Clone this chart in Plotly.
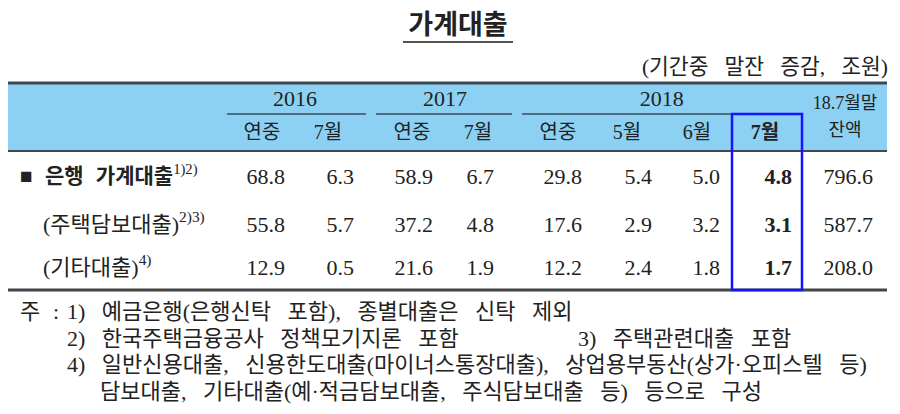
import plotly.graph_objects as go

# 표 내용
title = '가계대출'
unit_note = '(기간중 말잔 증감, 조원)'
years = ['2016', '2017', '2018']
sub_cols = ['연중', '7월', '연중', '7월', '연중', '5월', '6월', '7월']
balance_head = ['18.7월말', '잔액']
row_labels = ['■ 은행 가계대출', '(주택담보대출)', '(기타대출)']
row_notes = ['1)2)', '2)3)', '4)']
bank_total = [68.8, 6.3, 58.9, 6.7, 29.8, 5.4, 5.0, 4.8, 796.6]
mortgage = [55.8, 5.7, 37.2, 4.8, 17.6, 2.9, 3.2, 3.1, 587.7]
other_loans = [12.9, 0.5, 21.6, 1.9, 12.2, 2.4, 1.8, 1.7, 208.0]
note_head = '주 :'
notes = ['1) 예금은행(은행신탁 포함), 종별대출은 신탁 제외',
         '2) 한국주택금융공사 정책모기지론 포함',
         '3) 주택관련대출 포함',
         '4) 일반신용대출, 신용한도대출(마이너스통장대출), 상업용부동산(상가·오피스텔 등)',
         '담보대출, 기타대출(예·적금담보대출, 주식담보대출 등) 등으로 구성']

rows = [bank_total, mortgage, other_loans]

# 배치 (픽셀 단위 좌표계, 페이지 여백 8px 보정)
PAD = 8
col_head_x = [262, 328, 412, 478, 558, 627, 697, 765]
col_num_x = [285, 354, 433, 494, 582, 652, 720, 792, 873]
year_groups = [(0, 2), (2, 4), (4, 8)]
year_lines = [(227, 366), (376, 512), (522, 732)]
row_y = [178, 226, 269]
label_x = [20, 43, 43]
hl_col = 7

FONT = 'Liberation Serif, Noto Sans CJK KR'
INK = '#222222'
BAND = '#8cd1f3'


def widen(s, sp='\u2002\u200a'):
    # 한글 문서처럼 띄어쓰기를 넓게
    return s.replace(' ', sp)


fig = go.Figure()


def add_text(xs, ys, texts, size=21, pos='middle center', bold=False):
    if bold:
        texts = ['<b>' + t + '</b>' for t in texts]
    fig.add_trace(go.Scatter(
        x=xs, y=ys, text=texts, mode='text', textposition=pos,
        marker=dict(size=0),
        textfont=dict(family=FONT, size=size, color=INK),
        hoverinfo='skip', showlegend=False, cliponaxis=False))


shapes = []

# 제목
add_text([458], [27], [title], size=27, bold=True)
shapes.append(dict(type='line', x0=403, x1=513, y0=42, y1=42,
                   line=dict(color='#555555', width=2)))
add_text([888], [69], [widen(unit_note, '\u2002\u2005')], size=21.5, pos='middle left')

# 헤더 배경 및 선
shapes.append(dict(type='rect', x0=4, x1=887, y0=83, y1=151,
                   fillcolor=BAND, line=dict(width=0), layer='below'))
shapes.append(dict(type='line', x0=4, x1=887, y0=83, y1=83,
                   line=dict(color='#3d4a55', width=3)))
shapes.append(dict(type='line', x0=4, x1=887, y0=151, y1=151,
                   line=dict(color='#3d4a55', width=2)))
shapes.append(dict(type='line', x0=4, x1=887, y0=290, y1=290,
                   line=dict(color='#444444', width=3)))

year_x = [sum(col_head_x[a:b]) / (b - a) for a, b in year_groups]
add_text(year_x, [100] * len(years), years, size=22)
for x0, x1 in year_lines:
    shapes.append(dict(type='line', x0=x0, x1=x1, y0=114, y1=114,
                       line=dict(color='#3d4a55', width=1.5)))

add_text(col_head_x[:hl_col], [134] * hl_col, sub_cols[:hl_col], size=20)
add_text([col_head_x[hl_col]], [134], [sub_cols[hl_col]], size=20, bold=True)
add_text([845, 845], [104, 131], balance_head, size=18)

# 본문
labels = []
for r, (lab, sup) in enumerate(zip(row_labels, row_notes)):
    lab = widen(lab)
    if r == 0:
        lab = '<b>' + lab + '</b>'
    labels.append(lab + '<sup>' + sup + '</sup>')
add_text(label_x[:1], row_y[:1], labels[:1], size=21, pos='middle right')
add_text(label_x[1:], row_y[1:], labels[1:], size=22, pos='middle right')

for r, vals in enumerate(rows):
    plain = [c for c in range(len(vals)) if c != hl_col]
    add_text([col_num_x[c] for c in plain], [row_y[r]] * len(plain),
             [f'{vals[c]:.1f}' for c in plain], size=22, pos='middle left')
    add_text([col_num_x[hl_col]], [row_y[r]], [f'{vals[hl_col]:.1f}'],
             size=22, pos='middle left', bold=True)

# 강조 상자
shapes.append(dict(type='rect', x0=732, x1=802, y0=114, y1=290,
                   line=dict(color='#1414ff', width=2.5)))

# 주석
note_y = [313, 340, 366, 393]
add_text([20, 67, 67, 578, 67, 100],
         [note_y[0], note_y[0], note_y[1], note_y[1], note_y[2], note_y[3]],
         [widen(note_head)] + [widen(n, '\u2002\u2005') for n in notes],
         size=22, pos='middle right')

fig.update_layout(
    width=900, height=414,
    margin=dict(l=0, r=0, t=0, b=0),
    paper_bgcolor='white', plot_bgcolor='white',
    xaxis=dict(range=[PAD, 900 + PAD], visible=False, fixedrange=True),
    yaxis=dict(range=[414 + PAD, PAD], visible=False, fixedrange=True),
    shapes=shapes,
    showlegend=False,
)
fig.write_html('out.html')
